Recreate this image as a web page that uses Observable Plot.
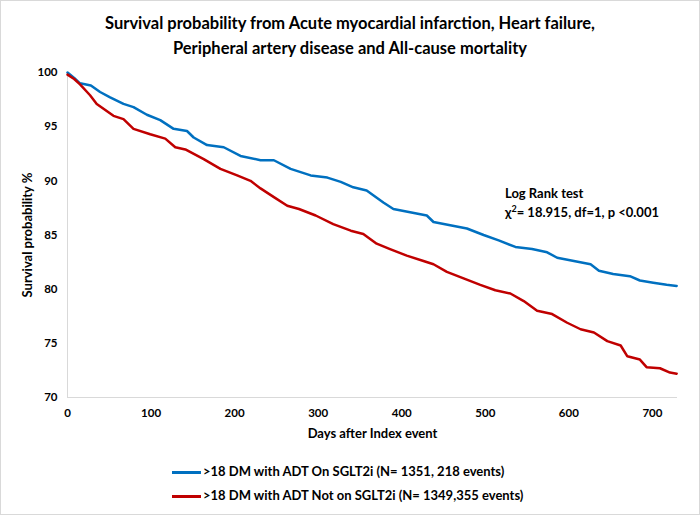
<!DOCTYPE html>
<html><head><meta charset="utf-8">
<script src="https://cdn.jsdelivr.net/npm/d3@7"></script>
<script src="https://cdn.jsdelivr.net/npm/@observablehq/plot@0.6"></script>
<style>
body{margin:0;background:#fff;}
#wrap{position:relative;width:700px;height:515px;box-shadow:inset 0 0 0 1px #d9d9d9;font-family:Lato,"Open Sans",sans-serif;color:#000;overflow:hidden}
#title{position:absolute;left:0;top:11px;width:700px;text-align:center;font-weight:700;font-size:16.5px;line-height:25px}
#chart{position:absolute;left:0;top:60px}
#chart svg{background:transparent}
#chart svg text{font-weight:700}
#note{position:absolute;left:505px;top:184px;font-weight:700;font-size:13px;line-height:19px}
.leg{position:absolute;left:172px;font-weight:700;font-size:13px;line-height:16px;white-space:nowrap}
.leg i{display:inline-block;width:29px;height:2.5px;vertical-align:middle;margin-right:2px}
</style></head>
<body>
<div id="wrap">
  <div id="title">Survival probability from Acute myocardial infarction, Heart failure,<br>Peripheral artery disease and All-cause mortality</div>
  <div id="chart"></div>
  <div id="note">Log Rank test<br>χ<sup style="font-size:9px;line-height:0">2</sup>= 18.915, df=1, p &lt;0.001</div>
  <div class="leg" id="leg1" style="top:463px"></div>
  <div class="leg" id="leg2" style="top:487px"></div>
</div>
<script>
// Series names and colors
const seriesNames = [">18 DM with ADT On SGLT2i (N= 1351, 218 events)", ">18 DM with ADT Not on SGLT2i (N= 1349,355 events)"];
const seriesColors = ["#0070C0", "#C00000"];

// On SGLT2i (blue)
const onDays = [0,8,15,28,39,51,67,79,95,111,127,143,151,167,187,207,231,247,267,291,311,327,342,358,378,390,410,430,438,458,478,498,516,536,556,574,586,606,626,636,653,673,685,701,717,729];
const onSurv = [100,99.5,99.0,98.8,98.2,97.7,97.1,96.8,96.1,95.6,94.8,94.6,94.0,93.3,93.1,92.3,91.9,91.9,91.1,90.5,90.3,89.9,89.4,89.1,88.0,87.4,87.1,86.8,86.2,85.9,85.6,85.0,84.5,83.9,83.7,83.4,82.9,82.6,82.3,81.7,81.4,81.2,80.8,80.6,80.4,80.3];

// Not on SGLT2i (red)
const notDays = [0,8,15,27,35,55,67,79,99,117,129,141,163,183,203,219,231,247,263,277,297,318,339,354,370,386,406,426,438,454,474,494,512,530,546,562,580,598,614,630,646,662,670,685,693,709,721,729];
const notSurv = [99.8,99.4,98.9,97.9,97.1,96.0,95.7,94.8,94.3,93.9,93.1,92.9,92.0,91.1,90.5,90.0,89.3,88.5,87.7,87.4,86.8,86.0,85.4,85.1,84.2,83.7,83.1,82.6,82.3,81.6,81.0,80.4,79.9,79.6,78.9,78.0,77.7,76.9,76.3,76.0,75.2,74.8,73.8,73.5,72.8,72.7,72.3,72.2];

const xTicks = [0,100,200,300,400,500,600,700];
const yTicks = [70,75,80,85,90,95,100];

const onRows = onDays.map((d,i)=>({day:d, surv:onSurv[i], s:seriesNames[0]}));
const notRows = notDays.map((d,i)=>({day:d, surv:notSurv[i], s:seriesNames[1]}));

const chart = Plot.plot({
  width: 700,
  height: 400,
  marginTop: 12,
  marginBottom: 63,
  marginLeft: 67,
  marginRight: 23,
  style: {fontFamily: "Lato, 'Open Sans', sans-serif", fontSize: "11.5px", color: "#000", background: "transparent"},
  x: {domain: [0, 730]},
  y: {domain: [70, 100]},
  marks: [
    Plot.ruleY([70], {stroke: "#d9d9d9", strokeWidth: 1}),
    Plot.ruleX([0], {stroke: "#d9d9d9", strokeWidth: 1}),
    Plot.axisX({ticks: xTicks, tickSize: 0, tickPadding: 11, tickFormat: d => String(d), label: "Days after Index event", labelAnchor: "center", labelArrow: "none", labelOffset: 40}),
    Plot.axisY({ticks: yTicks, tickSize: 0, tickPadding: 10, tickFormat: d => String(d), label: "Survival probability %", labelAnchor: "center", labelArrow: "none", labelOffset: 45}),
    Plot.line(onRows, {x: "day", y: "surv", stroke: seriesColors[0], strokeWidth: 2.5}),
    Plot.line(notRows, {x: "day", y: "surv", stroke: seriesColors[1], strokeWidth: 2.5})
  ]
});
document.getElementById("chart").appendChild(chart);
d3.select(chart).selectAll('g[aria-label="x-axis label"] text, g[aria-label="y-axis label"] text').style("font-size", "13px");

const legs = [document.getElementById("leg1"), document.getElementById("leg2")];
seriesNames.forEach((n,i)=>{
  legs[i].innerHTML = `<i style="background:${seriesColors[i]}"></i>` + n.replace(/>/g,"&gt;");
});
</script>
</body></html>
